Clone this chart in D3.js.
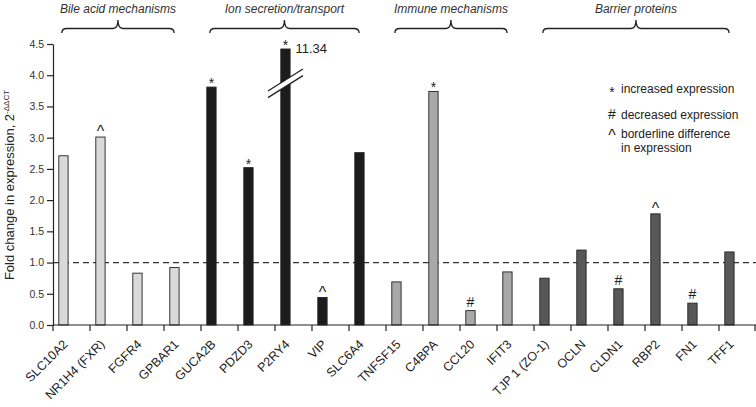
<!DOCTYPE html>
<html>
<head>
<meta charset="utf-8">
<script src="https://cdn.jsdelivr.net/npm/d3@7"></script>
<style>
  html, body { margin: 0; padding: 0; background: #fff; }
  svg { display: block; font-family: Arial, "Liberation Sans", sans-serif; }
</style>
</head>
<body>
<svg id="chart" width="756" height="407"></svg>
<script>
// ---- data ----
const genes = ["SLC10A2", "NR1H4 (FXR)", "FGFR4", "GPBAR1", "GUCA2B", "PDZD3", "P2RY4", "VIP", "SLC6A4",
  "TNFSF15", "C4BPA", "CCL20", "IFIT3", "TJP 1 (ZO-1)", "OCLN", "CLDN1", "RBP2", "FN1", "TFF1"];
const foldChange = [2.71, 3.01, 0.83, 0.92, 3.81, 2.52, 4.42, 0.44, 2.76,
  0.69, 3.74, 0.23, 0.85, 0.75, 1.20, 0.58, 1.78, 0.35, 1.17];
const groupOf = ["bile", "bile", "bile", "bile", "ion", "ion", "ion", "ion", "ion",
  "immune", "immune", "immune", "immune", "barrier", "barrier", "barrier", "barrier", "barrier", "barrier"];
const marks = ["", "^", "", "", "*", "*", "*", "^", "", "", "*", "#", "", "", "", "#", "^", "#", ""];
const groups = ["bile", "ion", "immune", "barrier"];
const groupLabels = ["Bile acid mechanisms", "Ion secretion/transport", "Immune mechanisms", "Barrier proteins"];
const groupColors = ["#d9d9d9", "#1c1c1c", "#a9a9a9", "#585858"];
const yTicks = [0, 0.5, 1, 1.5, 2, 2.5, 3, 3.5, 4, 4.5];
const truncatedGene = "P2RY4";
const truncatedLabel = "11.34";
const breakValue = 3.87;
const referenceLine = 1.0;
const legendItems = [["*", ["increased expression"]], ["#", ["decreased expression"]], ["^", ["borderline difference", "in expression"]]];

// ---- layout ----
const svg = d3.select("#chart");
const x = d3.scaleBand().domain(genes).range([53, 756]).padding(0);
const y = d3.scaleLinear().domain([0, 4.5]).range([325, 44]);
const color = d3.scaleOrdinal().domain(groups).range(groupColors);
const barOff = 5.8, barW = 9.3;
const bx = g => x(g) + barOff;
const bc = g => x(g) + barOff + barW / 2;
const markSize = { "*": 14, "#": 14, "^": 16 };
const markLift = { "*": -1, "#": 4, "^": 0 };

// dashed reference line
svg.append("line")
  .attr("x1", 53).attr("x2", 756)
  .attr("y1", y(referenceLine)).attr("y2", y(referenceLine))
  .attr("stroke", "#333").attr("stroke-width", 1.2).attr("stroke-dasharray", "6,4");

// bars
const data = genes.map((g, i) => ({ gene: g, value: foldChange[i], group: groupOf[i], mark: marks[i] }));
svg.append("g").selectAll("rect").data(data).join("rect")
  .attr("x", d => bx(d.gene))
  .attr("y", d => y(d.value))
  .attr("width", barW)
  .attr("height", d => y(0) - y(d.value))
  .attr("fill", d => color(d.group))
  .attr("stroke", "#222").attr("stroke-width", 0.9);

// axis break on truncated bar
{
  const cx = bc(truncatedGene), cy = y(breakValue);
  const hw = 17.5, dy = 11, gap = 3.3;
  svg.append("path")
    .attr("d", `M${cx - hw},${cy + dy - gap} L${cx + hw},${cy - dy - gap} L${cx + hw},${cy - dy + gap} L${cx - hw},${cy + dy + gap} Z`)
    .attr("fill", "#fff");
  [-gap, gap].forEach(o => {
    svg.append("line")
      .attr("x1", cx - hw).attr("y1", cy + dy + o)
      .attr("x2", cx + hw).attr("y2", cy - dy + o)
      .attr("stroke", "#222").attr("stroke-width", 1.3);
  });
  svg.append("text")
    .attr("x", cx + 10).attr("y", y(4.42) + 4)
    .attr("font-size", 13).attr("fill", "#222")
    .text(truncatedLabel);
}

// significance marks
svg.append("g").selectAll("text").data(data.filter(d => d.mark)).join("text")
  .attr("x", d => bc(d.gene))
  .attr("y", d => y(d.value) - markLift[d.mark])
  .attr("text-anchor", "middle")
  .attr("font-size", d => markSize[d.mark])
  .attr("fill", "#222")
  .text(d => d.mark);

// y axis
const yAxis = svg.append("g").attr("transform", "translate(53,0)")
  .call(d3.axisLeft(y).tickValues(yTicks).tickFormat(d3.format(".1f")).tickSize(6).tickSizeOuter(0));
yAxis.select(".domain").attr("stroke", "#222").attr("stroke-width", 1.2);
yAxis.selectAll(".tick line").attr("stroke", "#222").attr("stroke-width", 1.2);
yAxis.selectAll(".tick text").attr("font-size", 10.5).attr("fill", "#333").attr("font-family", "Arial, 'Liberation Sans', sans-serif");

// x axis
const boundaries = genes.map(g => x(g)).concat([x.range()[1] - 1]);
svg.append("line").attr("x1", 53).attr("x2", 756).attr("y1", y(0)).attr("y2", y(0))
  .attr("stroke", "#222").attr("stroke-width", 1.2);
svg.append("g").selectAll("line").data(boundaries).join("line")
  .attr("x1", d => d).attr("x2", d => d).attr("y1", y(0)).attr("y2", y(0) + 6)
  .attr("stroke", "#222").attr("stroke-width", 1.2);
svg.append("g").selectAll("text").data(genes).join("text")
  .attr("transform", g => `translate(${bc(g) + 5},${y(0) + 20}) rotate(-45)`)
  .attr("text-anchor", "end")
  .attr("font-size", 12.5).attr("fill", "#222")
  .text(g => g);

// y label
const yl = svg.append("text")
  .attr("transform", `translate(14,185) rotate(-90)`)
  .attr("text-anchor", "middle")
  .attr("font-size", 13).attr("fill", "#222");
yl.append("tspan").text("Fold change in expression, 2");
yl.append("tspan").attr("font-size", 8).attr("dy", -5).text("-ΔΔCT");

// group braces and labels
groups.forEach((grp, gi) => {
  const members = genes.filter((g, i) => groupOf[i] === grp);
  const x0 = bx(members[0]) + 3;
  const x1 = bx(members[members.length - 1]) + barW - 5;
  const xm = (x0 + x1) / 2;
  const yb = 33, yh = 28.5, yt = 20, r = 5;
  svg.append("path")
    .attr("d", `M${x0},${yb} Q${x0},${yh} ${x0 + r},${yh} L${xm - r},${yh} Q${xm},${yh} ${xm},${yt} Q${xm},${yh} ${xm + r},${yh} L${x1 - r},${yh} Q${x1},${yh} ${x1},${yb}`)
    .attr("fill", "none").attr("stroke", "#222").attr("stroke-width", 1.3);
  svg.append("text")
    .attr("x", xm).attr("y", 12.5)
    .attr("text-anchor", "middle").attr("font-style", "italic")
    .attr("font-size", 12).attr("fill", "#333")
    .text(groupLabels[gi]);
});

// legend
const legendY = [93, 119, 138];
legendItems.forEach(([sym, lines], i) => {
  svg.append("text").attr("x", 612).attr("y", legendY[i] + (sym === "*" ? 4 : sym === "^" ? 3 : 0))
    .attr("text-anchor", "middle").attr("font-size", markSize[sym]).attr("fill", "#222").text(sym);
  lines.forEach((ln, j) => {
    svg.append("text").attr("x", 621).attr("y", legendY[i] + j * 13.5)
      .attr("font-size", 12).attr("fill", "#222").text(ln);
  });
});
</script>
</body>
</html>
